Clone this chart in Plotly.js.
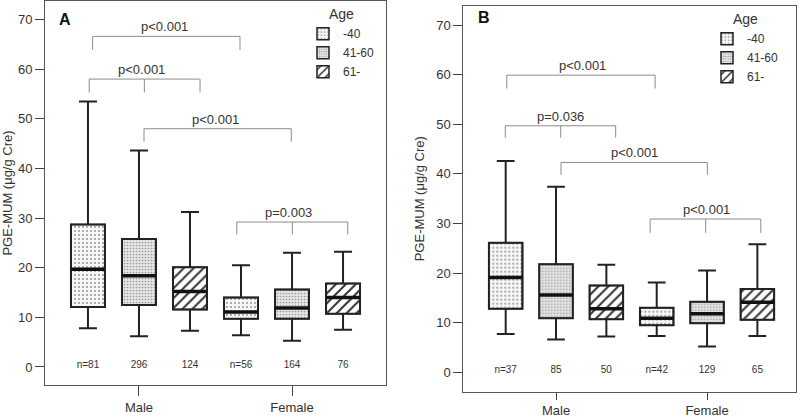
<!DOCTYPE html>
<html>
<head>
<meta charset="utf-8">
<script src="https://cdn.plot.ly/plotly-3.0.1.min.js"></script>
<style>html,body{margin:0;padding:0;background:#fff;}#chart{width:800px;height:417px;}</style>
</head>
<body>
<div id="chart"></div>
<script>
// ---- data ----
const sexes = ['Male', 'Female'];
const ages = ['-40', '41-60', '61-'];

// Panel A, order: Male(-40, 41-60, 61-), Female(-40, 41-60, 61-)
const aUpper  = [53.5, 43.6, 31.2, 20.5, 23.0, 23.2];
const aQ3     = [28.7, 25.8, 20.1, 14.0, 15.6, 16.8];
const aMedian = [19.7, 18.4, 15.2, 11.1, 11.9, 14.0];
const aQ1     = [12.1, 12.5, 11.6, 9.7, 9.7, 10.7];
const aLower  = [7.8, 6.2, 7.3, 6.4, 5.3, 7.5];
const aN      = ['n=81', '296', '124', 'n=56', '164', '76'];

// Panel B
const bUpper  = [42.6, 37.4, 21.7, 18.1, 20.5, 25.8];
const bQ3     = [26.1, 21.8, 17.5, 13.0, 14.2, 16.8];
const bMedian = [19.1, 15.6, 12.8, 10.9, 11.8, 14.1];
const bQ1     = [12.8, 10.9, 10.7, 9.5, 9.9, 10.6];
const bLower  = [7.7, 6.6, 7.2, 7.3, 5.2, 7.3];
const bN      = ['n=37', '85', '50', 'n=42', '129', '65'];

// significance brackets
const aBrX = [[-0.303, 0.660], [-0.325, 0.035, 0.399], [0.033, 0.995], [0.639, 1.002, 1.364]];
const aBrY = [66.6, 58.0, 48.0, 29.2];
const aBrDrop = [63.9, 55.3, 45.4, 26.7];
const aBrLabelX = [0.170, 0.018, 0.503, 0.980];
const aBrLabel = ['p<0.001', 'p<0.001', 'p<0.001', 'p=0.003'];

const bBrX = [[-0.326, 0.656], [-0.336, 0.031, 0.395], [0.033, 1.002], [0.623, 0.991, 1.356]];
const bBrY = [59.9, 49.7, 42.3, 30.9];
const bBrDrop = [57.2, 47.3, 39.8, 28.1];
const bBrLabelX = [0.175, 0.030, 0.522, 0.998];
const bBrLabel = ['p<0.001', 'p=0.036', 'p<0.001', 'p<0.001'];

// ---- styling ----
const FONT = 'Liberation Sans, Arial, sans-serif';
const TXT = '#333333';
const OFFSET = 1 / 3;
const BOXW = 0.222;
const patterns = [
  {shape: '.', size: 4, solidity: 0.16, fgcolor: '#8a8a8a', bgcolor: '#f7f7f7', fillmode: 'replace'},
  {shape: '.', size: 3, solidity: 0.25, fgcolor: '#999999', bgcolor: '#e6e6e6', fillmode: 'replace'},
  {shape: '/', size: 7, solidity: 0.28, fgcolor: '#333333', bgcolor: '#ffffff', fillmode: 'replace'}
];

function pos(i) { // i = index in the 6-array
  const s = Math.floor(i / 3), a = i % 3;
  return s + (a - 1) * OFFSET;
}

const traces = [];
function addPanel(xa, ya, legendId, upper, q3, med, q1, lower, ns) {
  ages.forEach((age, a) => {
    const idx = [a, a + 3];
    traces.push({
      type: 'bar', xaxis: xa, yaxis: ya, legend: legendId,
      name: age,
      x: idx.map(pos),
      base: idx.map(i => q1[i]),
      y: idx.map(i => q3[i] - q1[i]),
      width: BOXW,
      marker: {color: patterns[a].bgcolor, pattern: patterns[a], line: {color: '#222', width: 1.5}},
      hoverinfo: 'skip'
    });
  });
  const xs = upper.map((_, i) => pos(i));
  traces.push({
    type: 'box', xaxis: xa, yaxis: ya, showlegend: false,
    x: xs, q1: q1, median: med, q3: q3, lowerfence: lower, upperfence: upper,
    width: BOXW, whiskerwidth: 0.53,
    fillcolor: 'rgba(0,0,0,0)', line: {color: '#222222', width: 2},
    boxpoints: false, hoverinfo: 'skip'
  });
  const mx = [], my = [];
  med.forEach((m, i) => { mx.push(pos(i) - BOXW / 2, pos(i) + BOXW / 2, null); my.push(m, m, null); });
  traces.push({type: 'scatter', mode: 'lines', xaxis: xa, yaxis: ya, showlegend: false,
    x: mx, y: my, line: {color: '#111', width: 3.5}, hoverinfo: 'skip'});
  traces.push({type: 'scatter', mode: 'text', xaxis: xa, yaxis: ya, showlegend: false,
    x: xs, y: ns.map(() => 0.3), text: ns, textposition: 'middle center',
    textfont: {family: FONT, size: 10, color: TXT}, hoverinfo: 'skip'});
}
addPanel('x', 'y', 'legend', aUpper, aQ3, aMedian, aQ1, aLower, aN);
addPanel('x2', 'y2', 'legend2', bUpper, bQ3, bMedian, bQ1, bLower, bN);

const shapes = [], annotations = [];
function addBrackets(xr, yr, brX, brY, brDrop, lx, labels) {
  brX.forEach((xsB, k) => {
    const line = {color: '#8c8c8c', width: 1};
    shapes.push({type: 'line', xref: xr, yref: yr, x0: xsB[0], x1: xsB[xsB.length - 1], y0: brY[k], y1: brY[k], line});
    xsB.forEach(xv => shapes.push({type: 'line', xref: xr, yref: yr, x0: xv, x1: xv, y0: brY[k], y1: brDrop[k], line}));
    annotations.push({xref: xr, yref: yr, x: lx[k], y: brY[k], yanchor: 'bottom', xanchor: 'center',
      text: labels[k], showarrow: false, font: {family: FONT, size: 13, color: TXT}});
  });
}
addBrackets('x', 'y', aBrX, aBrY, aBrDrop, aBrLabelX, aBrLabel);
addBrackets('x2', 'y2', bBrX, bBrY, bBrDrop, bBrLabelX, bBrLabel);

annotations.push({xref: 'paper', yref: 'paper', x: 57 / 800, y: 1 - 19 / 417, xanchor: 'left', yanchor: 'middle',
  text: '<b>A</b>', showarrow: false, font: {family: FONT, size: 16, color: '#111'}});
annotations.push({xref: 'paper', yref: 'paper', x: 476 / 800, y: 1 - 18 / 417, xanchor: 'left', yanchor: 'middle',
  text: '<b>B</b>', showarrow: false, font: {family: FONT, size: 16, color: '#111'}});

function xaxisDef(domain, range, tl) {
  return {domain, range, tickvals: [0, 1], ticktext: sexes, ticks: 'outside', ticklen: tl,
    tickcolor: '#444', showline: true, mirror: true, linecolor: '#555', linewidth: 1,
    showgrid: false, zeroline: false, fixedrange: true,
    tickfont: {family: FONT, size: 13, color: TXT}};
}
function yaxisDef(domain, range) {
  return {domain, range, tickvals: [0, 10, 20, 30, 40, 50, 60, 70], ticks: 'outside', ticklen: 9,
    tickcolor: '#444', showline: true, mirror: true, linecolor: '#555', linewidth: 1,
    showgrid: false, zeroline: false, fixedrange: true,
    tickfont: {family: FONT, size: 13, color: TXT},
    title: {text: 'PGE-MUM (μg/g Cre)', font: {family: FONT, size: 13, color: TXT}, standoff: 8}};
}
function legendDef(x, y) {
  return {x, y, xanchor: 'left', yanchor: 'top', bgcolor: 'rgba(0,0,0,0)', borderwidth: 0,
    font: {family: FONT, size: 12, color: TXT},
    title: {text: 'Age', side: 'top center', font: {family: FONT, size: 14, color: TXT}},
    tracegroupgap: 0, itemclick: false};
}

const layout = {
  width: 800, height: 417,
  margin: {l: 0, r: 0, t: 0, b: 0},
  paper_bgcolor: '#fff', plot_bgcolor: '#fff',
  barmode: 'overlay',
  showlegend: true,
  font: {family: FONT, color: TXT},
  xaxis: xaxisDef([45 / 800, 386 / 800], [-0.614, 1.614], 10),
  yaxis: yaxisDef([1 - 385 / 417, 1 - 1 / 417], [-3.63, 73.73]),
  xaxis2: Object.assign(xaxisDef([463.3 / 800, 796 / 800], [-0.614, 1.589], 7), {anchor: 'y2'}),
  yaxis2: Object.assign(yaxisDef([1 - 391.7 / 417, 1 - 5.7 / 417], [-3.91, 73.9]), {anchor: 'x2'}),
  legend: legendDef(303 / 800, 1 - 1 / 417),
  legend2: legendDef(707 / 800, 1 - 6 / 417),
  shapes, annotations
};
layout.xaxis.anchor = 'y';
layout.yaxis.anchor = 'x';

Plotly.newPlot('chart', traces, layout, {staticPlot: true, displayModeBar: false});
</script>
</body>
</html>
